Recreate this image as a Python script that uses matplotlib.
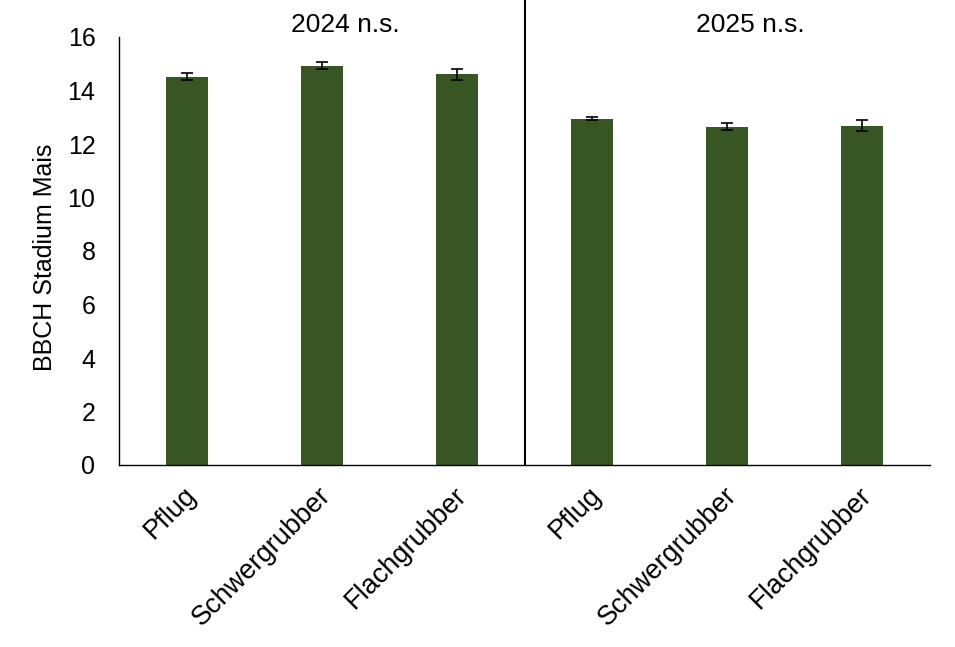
import matplotlib
matplotlib.use("Agg")
import matplotlib.pyplot as plt
import matplotlib.transforms as mtransforms
import numpy as np

plt.rcParams['font.family'] = ['Liberation Sans', 'DejaVu Sans']

categories = ["Pflug", "Schwergrubber", "Flachgrubber", "Pflug", "Schwergrubber", "Flachgrubber"]
values = [14.52, 14.93, 14.60, 12.95, 12.65, 12.68]
errors = [0.12, 0.12, 0.20, 0.07, 0.14, 0.20]
group_labels = ["2024 n.s.", "2025 n.s."]

W, H = 955, 647
fig = plt.figure(figsize=(W/100, H/100), dpi=100)
ax = fig.add_axes([119/W, 1-465/H, 811/W, 428/H])

x = np.arange(len(categories))
ax.bar(x, values, width=0.31, color="#375623",
       yerr=errors, capsize=4, error_kw=dict(ecolor="black", elinewidth=1.2, capthick=1.2))

ax.set_xlim(-0.5, len(categories) - 0.5)
ax.set_ylim(0, 16)
ax.set_yticks(np.arange(0, 17, 2))
ax.tick_params(axis='y', length=0, labelsize=18, pad=17)
ax.tick_params(axis='x', length=0, labelsize=19.5, pad=19)
ax.set_xticks(x)
ax.set_xticklabels(categories, rotation=45, ha='right', va='center', rotation_mode='anchor')
offset = mtransforms.ScaledTranslation(4/72, 0, fig.dpi_scale_trans)
for lab in ax.get_xticklabels():
    lab.set_transform(lab.get_transform() + offset)

fig.text(45/W, 1-257/H, "BBCH Stadium Mais", rotation=90, ha='center', va='center', fontsize=18)

for s in ['top', 'right']:
    ax.spines[s].set_visible(False)
ax.spines['left'].set_linewidth(1.0)
ax.spines['bottom'].set_linewidth(1.0)

ax.axvline(2.5, ymin=0, ymax=465/428, color='black', lw=1.5, clip_on=False)

fig.text(345/W, 1-25/H, group_labels[0], ha='center', va='center', fontsize=19)
fig.text(750/W, 1-25/H, group_labels[1], ha='center', va='center', fontsize=19)

fig.savefig("out.png", dpi=100)
